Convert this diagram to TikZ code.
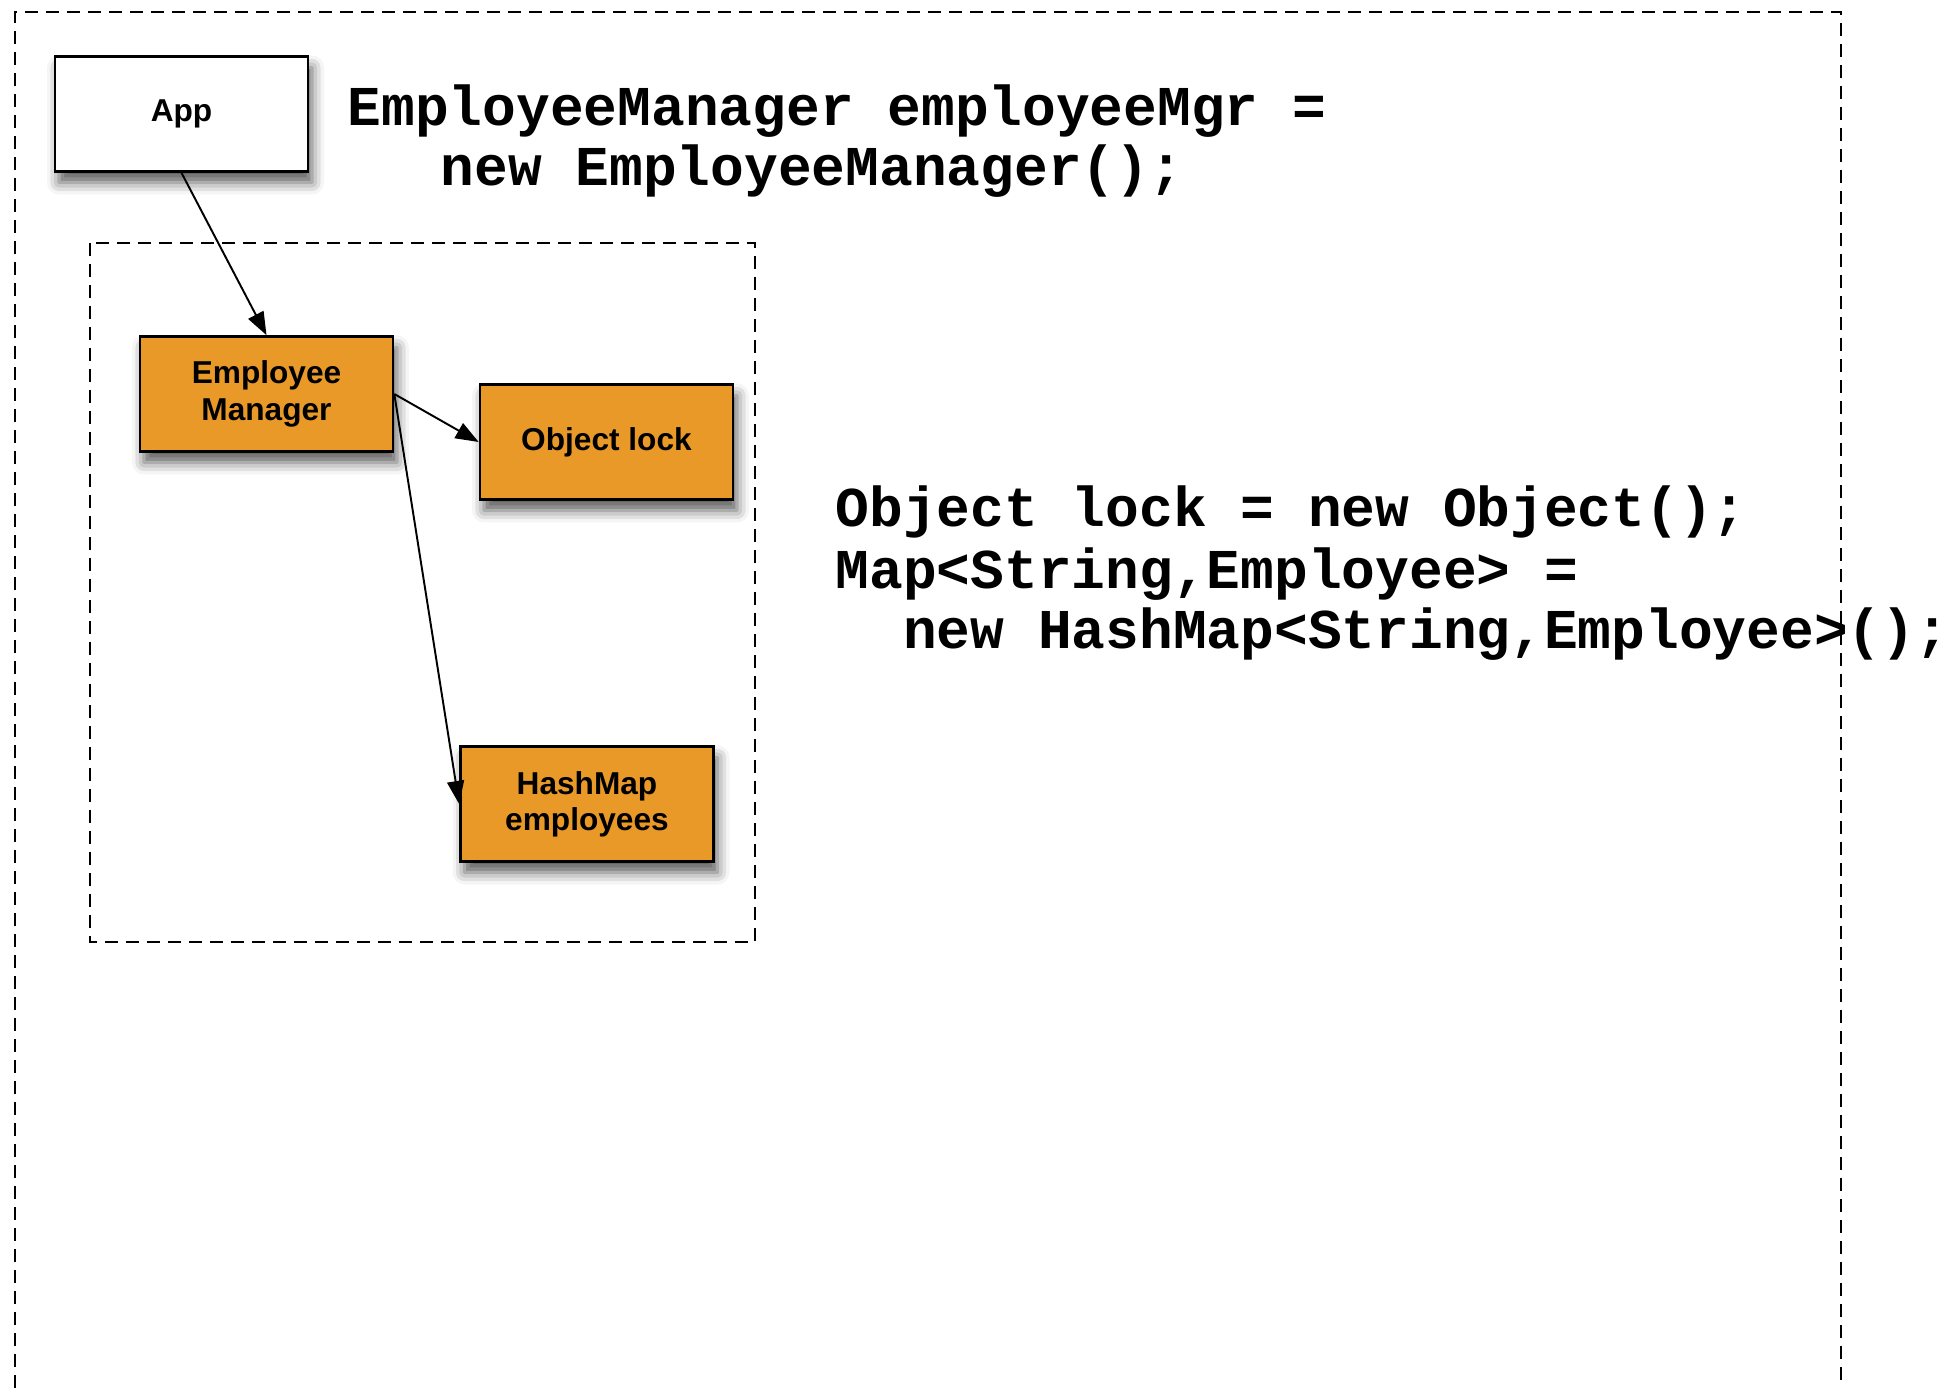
\documentclass[tikz,border=0pt]{standalone}
\usepackage{fontspec}
\setmainfont{Liberation Sans}
\setmonofont{Liberation Mono}
\usetikzlibrary{arrows.meta,shadows.blur}

\definecolor{boxorange}{RGB}{233,153,40}

\tikzset{
  objbox/.style={draw, line width=0.75pt, fill=boxorange,
    minimum width=25.3mm, minimum height=11.5mm, align=center,
    font=\fontsize{9}{10.3}\selectfont\bfseries,
    blur shadow={shadow xshift=0.4mm, shadow yshift=-1.1mm,
      shadow blur radius=1.2mm, shadow opacity=65}},
  frame/.style={line width=0.75pt, dash pattern=on 1.3mm off 0.8mm},
  link/.style={line width=0.55pt, -{Triangle[length=2.3mm,width=1.7mm]}},
  code/.style={anchor=base west, inner sep=0pt,
    font=\fontsize{16}{17}\selectfont\ttfamily\bfseries}
}

\begin{document}
\begin{tikzpicture}[x=0.1mm, y=-0.1mm]
\useasboundingbox (0,0) rectangle (1957,1388);

% dashed frames
\draw[frame] (15,1388)--(15,12)--(1841,12)--(1841,1388);
\draw[frame] (90,243) rectangle (755,942);

% objects
\node[objbox, fill=white] (app) at (181.5,114) {App};
\node[objbox] (mgr) at (266.5,394) {Employee\\Manager};
\node[objbox] (lock) at (606.5,442) {Object lock};
\node[objbox] (map) at (587,804) {HashMap\\employees};

\draw[link] (app.south) -- (mgr.north);
\draw[link] (mgr.east) -- (lock.west);
\draw[link] (mgr.east) -- (map.west);

% code
\node[code] (newmgr1) at (347,126) {EmployeeManager employeeMgr =};
\node[code] (newmgr2) at (347,186) {\hspace*{9.3mm}new EmployeeManager();};
\node[code] (fields1) at (835,527) {Object lock = new Object();};
\node[code] (fields2) at (835,589) {Map<String,Employee> =};
\node[code] (fields3) at (835,649) {~~new HashMap<String,Employee>();};
\end{tikzpicture}
\end{document}
